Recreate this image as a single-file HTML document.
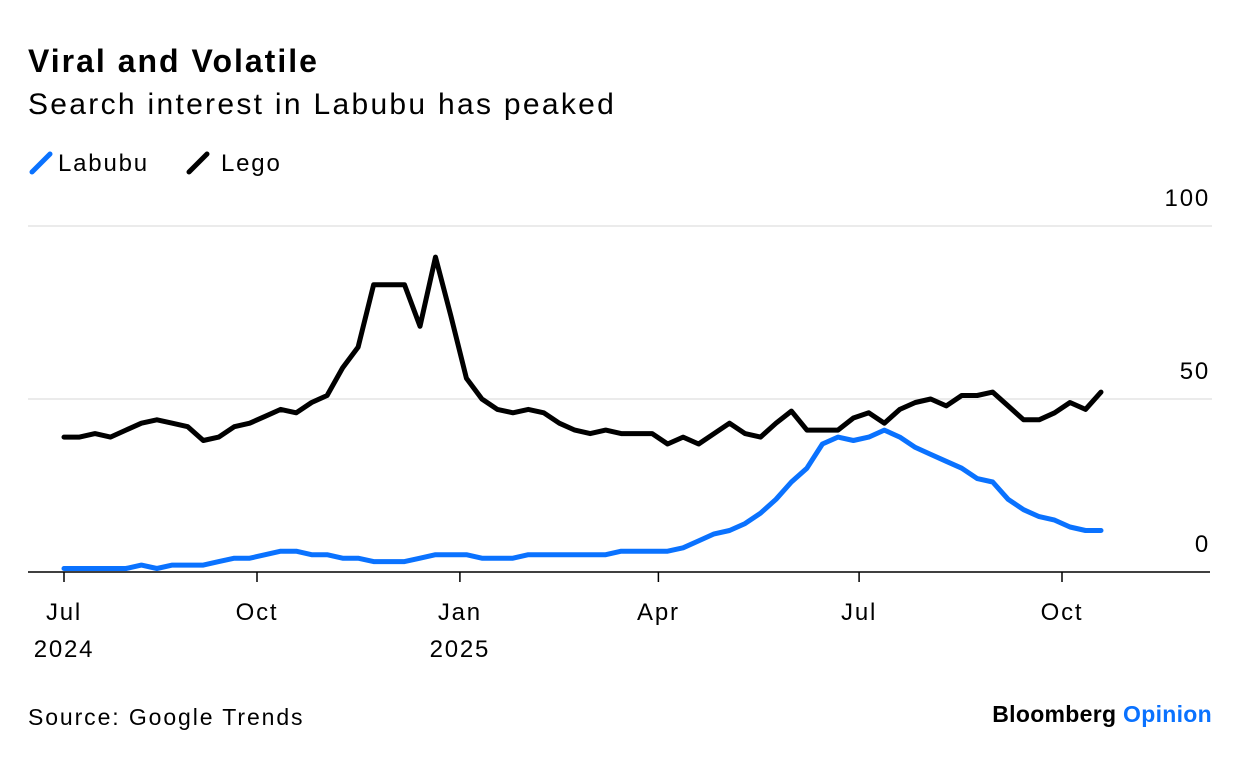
<!DOCTYPE html>
<html><head><meta charset="utf-8">
<style>
body{margin:0;background:#fff;font-family:"Liberation Sans",Arial,sans-serif;color:#000}
#wrap{position:relative;width:1240px;height:758px;overflow:hidden}
.t{position:absolute;white-space:nowrap}
</style></head><body>
<div id="wrap">
<div class="t" style="left:28px;top:43px;font-size:32px;font-weight:bold;letter-spacing:2px">Viral and Volatile</div>
<div class="t" style="left:28px;top:88px;font-size:30px;letter-spacing:2.3px">Search interest in Labubu has peaked</div>
<div class="t" style="left:28px;top:150px;font-size:24px;letter-spacing:1.8px"><svg width="30" height="26" style="vertical-align:-5px"><line x1="4" y1="22" x2="22" y2="4" stroke="#0a72ff" stroke-width="5" stroke-linecap="round"/></svg>Labubu</div>
<div class="t" style="left:185px;top:150px;font-size:24px;letter-spacing:1.8px"><svg width="36" height="26" style="vertical-align:-5px"><line x1="4" y1="22" x2="22" y2="4" stroke="#000" stroke-width="5" stroke-linecap="round"/></svg>Lego</div>
<svg id="chart" width="1240" height="758" style="position:absolute;left:0;top:0"></svg>
<div class="t" style="left:28px;top:704px;font-size:23px;letter-spacing:1.9px">Source: Google Trends</div>
<div class="t" style="right:28px;top:701px;font-size:23px;font-weight:bold;letter-spacing:0.3px">Bloomberg <span style="color:#0a72ff">Opinion</span></div>
</div>
<script>
const lego = [39,39,40,39,41,43,44,43,42,38,39,42,43,45,47,46,49,51,59,65,83,83,83,71,91,74,56,50,47,46,47,46,43,41,40,41,40,40,40,37,39,37,40,43,40,39,43,46.5,41,41,41,44.5,46,43,47,49,50,48,51,51,52,48,44,44,46,49,47,52];
const labubu = [1,1,1,1,1,2,1,2,2,2,3,4,4,5,6,6,5,5,4,4,3,3,3,4,5,5,5,4,4,4,5,5,5,5,5,5,6,6,6,6,7,9,11,12,14,17,21,26,30,37,39,38,39,41,39,36,34,32,30,27,26,21,18,16,15,13,12,12];
const yTicks = [0,50,100];
const xTickLabels = ["Jul","Oct","Jan","Apr","Jul","Oct"];
const xTickYears = ["2024","","2025","","",""];
const xTickDates = ["2024-07-01","2024-10-01","2025-01-01","2025-04-01","2025-07-01","2025-10-01"];

const NS="http://www.w3.org/2000/svg";
const svg=document.getElementById('chart');
const y0=572, yPer=3.46;
function yScale(v){return y0-v*yPer;}
function xIdx(i,n){return 64+i*(1101-64)/(n-1);}
const d0=Date.parse("2024-10-01"), d1=Date.parse("2025-10-01");
function xDate(s){return Math.max(64,257+(Date.parse(s)-d0)/(d1-d0)*(1062-257));}
function mk(tag,attrs){const e=document.createElementNS(NS,tag);for(const k in attrs)e.setAttribute(k,attrs[k]);svg.appendChild(e);return e;}

yTicks.forEach(v=>{
  if(v>0){const g=mk('line',{x1:28,x2:1212,y1:yScale(v),y2:yScale(v),stroke:'#ebebeb','stroke-width':2});
  
  }
  const t=mk('text',{x:1210,y:yScale(v)-20,'text-anchor':'end','font-size':24,'letter-spacing':'1.8','font-family':'Liberation Sans, sans-serif'});
  t.textContent=v;
  
  
});
const ax=mk('line',{x1:28,x2:1210,y1:y0,y2:y0,stroke:'#000','stroke-width':1.5});


xTickDates.forEach((d,i)=>{
  const x=xDate(d);
  const tk=mk('line',{x1:x,x2:x,y1:y0,y2:y0+10,stroke:'#000','stroke-width':1.5});
  
  
  const t=mk('text',{x:x,y:620,'text-anchor':'middle','font-size':24,'letter-spacing':'1.8','font-family':'Liberation Sans, sans-serif'});
  t.textContent=xTickLabels[i];
  
  
  if(xTickYears[i]){
    const ty=mk('text',{x:x,y:657,'text-anchor':'middle','font-size':24,'letter-spacing':'1.8','font-family':'Liberation Sans, sans-serif'});
    ty.textContent=xTickYears[i];
    
    
  }
});
function line(arr,color,name){
  const pts=arr.map((v,i)=>xIdx(i,arr.length).toFixed(1)+','+yScale(v).toFixed(1)).join(' ');
  const p=mk('polyline',{points:pts,fill:'none',stroke:color,'stroke-width':5,'stroke-linejoin':'round','stroke-linecap':'round'});
  
  
}
line(lego,'#000','lego-line');
line(labubu,'#0a72ff','labubu-line');
</script>
</body></html>
